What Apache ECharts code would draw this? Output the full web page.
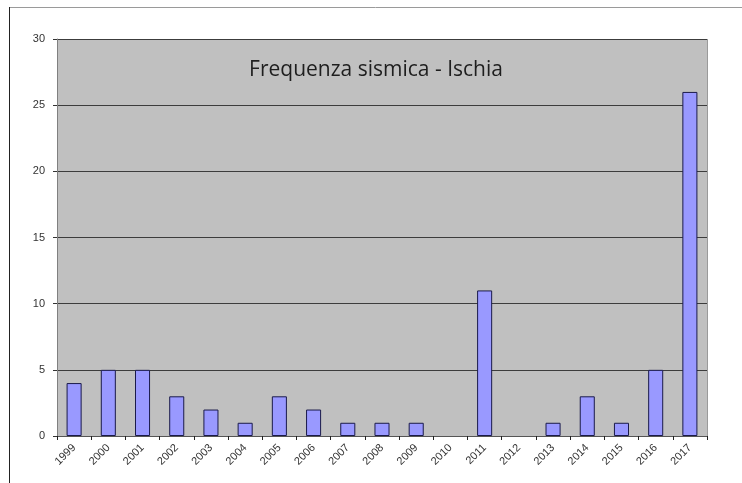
<!DOCTYPE html>
<html>
<head>
<meta charset="utf-8">
<script src="https://cdn.jsdelivr.net/npm/echarts@6/dist/echarts.min.js"></script>
<style>
  html, body { margin: 0; padding: 0; background: #ffffff; }
  #chart { width: 742px; height: 483px; }
</style>
</head>
<body>
<div id="chart"></div>
<script>
// Earthquake counts per year on Ischia
const years = ['1999','2000','2001','2002','2003','2004','2005','2006','2007','2008',
               '2009','2010','2011','2012','2013','2014','2015','2016','2017'];
const counts = [4, 5, 5, 3, 2, 1, 3, 2, 1, 1, 1, 0, 11, 0, 1, 3, 1, 5, 26];
const yTicks = [0, 5, 10, 15, 20, 25, 30];

// empty years get no outline so nothing is drawn for them
const barData = counts.map(v => v === 0
  ? { value: v, itemStyle: { borderWidth: 0, opacity: 0 } }
  : v);

const chart = echarts.init(document.getElementById('chart'), null, { renderer: 'canvas' });

chart.setOption({
  animation: false,
  backgroundColor: '#ffffff',
  title: {
    text: 'Frequenza sismica - Ischia',
    left: 371,
    top: 55,
    textAlign: 'center',
    textStyle: {
      fontFamily: 'Open Sans, Noto Sans, sans-serif',
      fontSize: 21,
      fontWeight: 'normal',
      color: '#1e1e1e'
    }
  },
  grid: {
    left: 57,
    top: 39,
    right: 35,
    bottom: 47,
    show: true,
    backgroundColor: '#c0c0c0',
    borderWidth: 0
  },
  xAxis: {
    type: 'category',
    data: years,
    axisLine: { show: true, lineStyle: { color: '#555555', width: 1 } },
    axisTick: { show: true, alignWithLabel: false, length: 4, lineStyle: { color: '#222222' } },
    axisLabel: {
      rotate: 45,
      interval: 0,
      margin: 10,
      fontFamily: 'Liberation Sans, Arial, sans-serif',
      fontSize: 11,
      color: '#333333'
    },
    splitLine: { show: false }
  },
  yAxis: {
    type: 'value',
    min: yTicks[0],
    max: yTicks[yTicks.length - 1],
    interval: 5,
    axisLine: { show: true, lineStyle: { color: '#808080', width: 1 } },
    axisTick: { show: true, length: 4, lineStyle: { color: '#333333' } },
    axisLabel: {
      margin: 12,
      fontFamily: 'Liberation Sans, Arial, sans-serif',
      fontSize: 11,
      color: '#333333'
    },
    splitLine: { show: true, lineStyle: { color: '#3c3c3c', width: 1 } }
  },
  series: [{
    type: 'bar',
    data: barData,
    barWidth: '44%',
    itemStyle: {
      color: '#9999ff',
      borderColor: '#1a1a4a',
      borderWidth: 1
    }
  }],
  graphic: [
    // outer chart frame (top and left edges)
    { type: 'line', shape: { x1: 9, y1: 7.5, x2: 742, y2: 7.5 }, style: { stroke: '#9a9a9a', lineWidth: 1 } },
    { type: 'line', shape: { x1: 9.5, y1: 7, x2: 9.5, y2: 483 }, style: { stroke: '#222222', lineWidth: 1 } },
    // top edge of the plot area
    { type: 'line', shape: { x1: 57, y1: 39.5, x2: 707, y2: 39.5 }, style: { stroke: '#8a8a8a', lineWidth: 1 } },
    // right edge of the plot area
    { type: 'line', shape: { x1: 707.5, y1: 39, x2: 707.5, y2: 436 }, style: { stroke: '#9a9a9a', lineWidth: 1 } }
  ]
});
</script>
</body>
</html>
